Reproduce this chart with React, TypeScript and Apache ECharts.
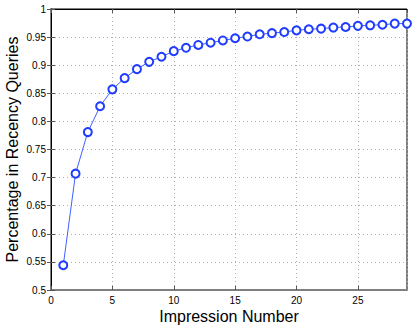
import React, { useEffect, useRef } from "react";
import * as echarts from "echarts";

const impressions = [1,2,3,4,5,6,7,8,9,10,11,12,13,14,15,16,17,18,19,20,21,22,23,24,25,26,27,28,29];
const percentages = [0.544,0.707,0.781,0.827,0.857,0.877,0.893,0.906,0.915,0.925,0.931,0.936,0.940,0.944,0.948,0.951,0.955,0.957,0.959,0.962,0.964,0.965,0.967,0.968,0.970,0.971,0.972,0.974,0.974];
const xTitle = "Impression Number";
const yTitle = "Percentage in Recency Queries";

export default function App() {
  const ref = useRef<HTMLDivElement>(null);
  useEffect(() => {
    document.body.style.margin = "0";
    const chart = echarts.init(ref.current!, null, { renderer: "svg" });
    const font = "'Liberation Sans', Arial, sans-serif";
    const tickCommon = { show: true, inside: true, length: 4, lineStyle: { color: "#555", width: 1 } };
    chart.setOption({
      animation: false,
      backgroundColor: "#fff",
      grid: {
        left: 51, right: 8, top: 9, bottom: 38, show: true, borderColor: "#000", borderWidth: 1,
        containLabel: false, outerBoundsMode: "none",
      },
      xAxis: [
        {
          type: "value", min: 0, max: 29, interval: 5,
          name: xTitle, nameLocation: "middle", nameGap: 18, nameMoveOverlap: false,
          nameTextStyle: { fontSize: 16, color: "#000", fontFamily: font },
          axisLine: { show: true, lineStyle: { color: "#808080", width: 2 } },
          axisTick: tickCommon,
          axisLabel: { color: "#000", fontSize: 10, fontFamily: font, margin: 5, showMaxLabel: false,
            formatter: (v: number) => (v % 5 === 0 ? String(v) : "") },
          splitLine: { show: true, lineStyle: { color: "#b0b0b0", type: [1, 3], width: 1 } },
        },
        {
          type: "value", min: 0, max: 29, interval: 5, position: "top",
          axisLine: { show: true, lineStyle: { color: "#000", width: 1 } },
          axisTick: tickCommon, axisLabel: { show: false }, splitLine: { show: false },
        },
      ],
      yAxis: [
        {
          type: "value", min: 0.5, max: 1, interval: 0.05,
          name: yTitle, nameLocation: "middle", nameGap: 31, nameMoveOverlap: false,
          nameTextStyle: { fontSize: 16, color: "#000", fontFamily: font },
          axisLine: { show: true, lineStyle: { color: "#808080", width: 2 } },
          axisTick: tickCommon,
          axisLabel: { color: "#000", fontSize: 10, fontFamily: font, margin: 5,
            formatter: (v: number) => String(Math.round(v * 100) / 100) },
          splitLine: { show: true, lineStyle: { color: "#b0b0b0", type: [1, 3], width: 1 } },
        },
        {
          type: "value", min: 0.5, max: 1, interval: 0.05, position: "right",
          axisLine: { show: true, lineStyle: { color: "#000", width: 1 } },
          axisTick: tickCommon, axisLabel: { show: false }, splitLine: { show: false },
        },
      ],
      series: [
        {
          type: "line",
          data: impressions.map((x, i) => [x, percentages[i]]),
          symbol: "emptyCircle",
          symbolSize: 8,
          showSymbol: true,
          lineStyle: { color: "#4060ff", width: 1 },
          itemStyle: { color: "#1f3cff", borderColor: "#1f3cff", borderWidth: 3 },
          z: 5,
        },
      ],
    });
    return () => chart.dispose();
  }, []);
  return <div ref={ref} style={{ width: 415, height: 328 }} />;
}
